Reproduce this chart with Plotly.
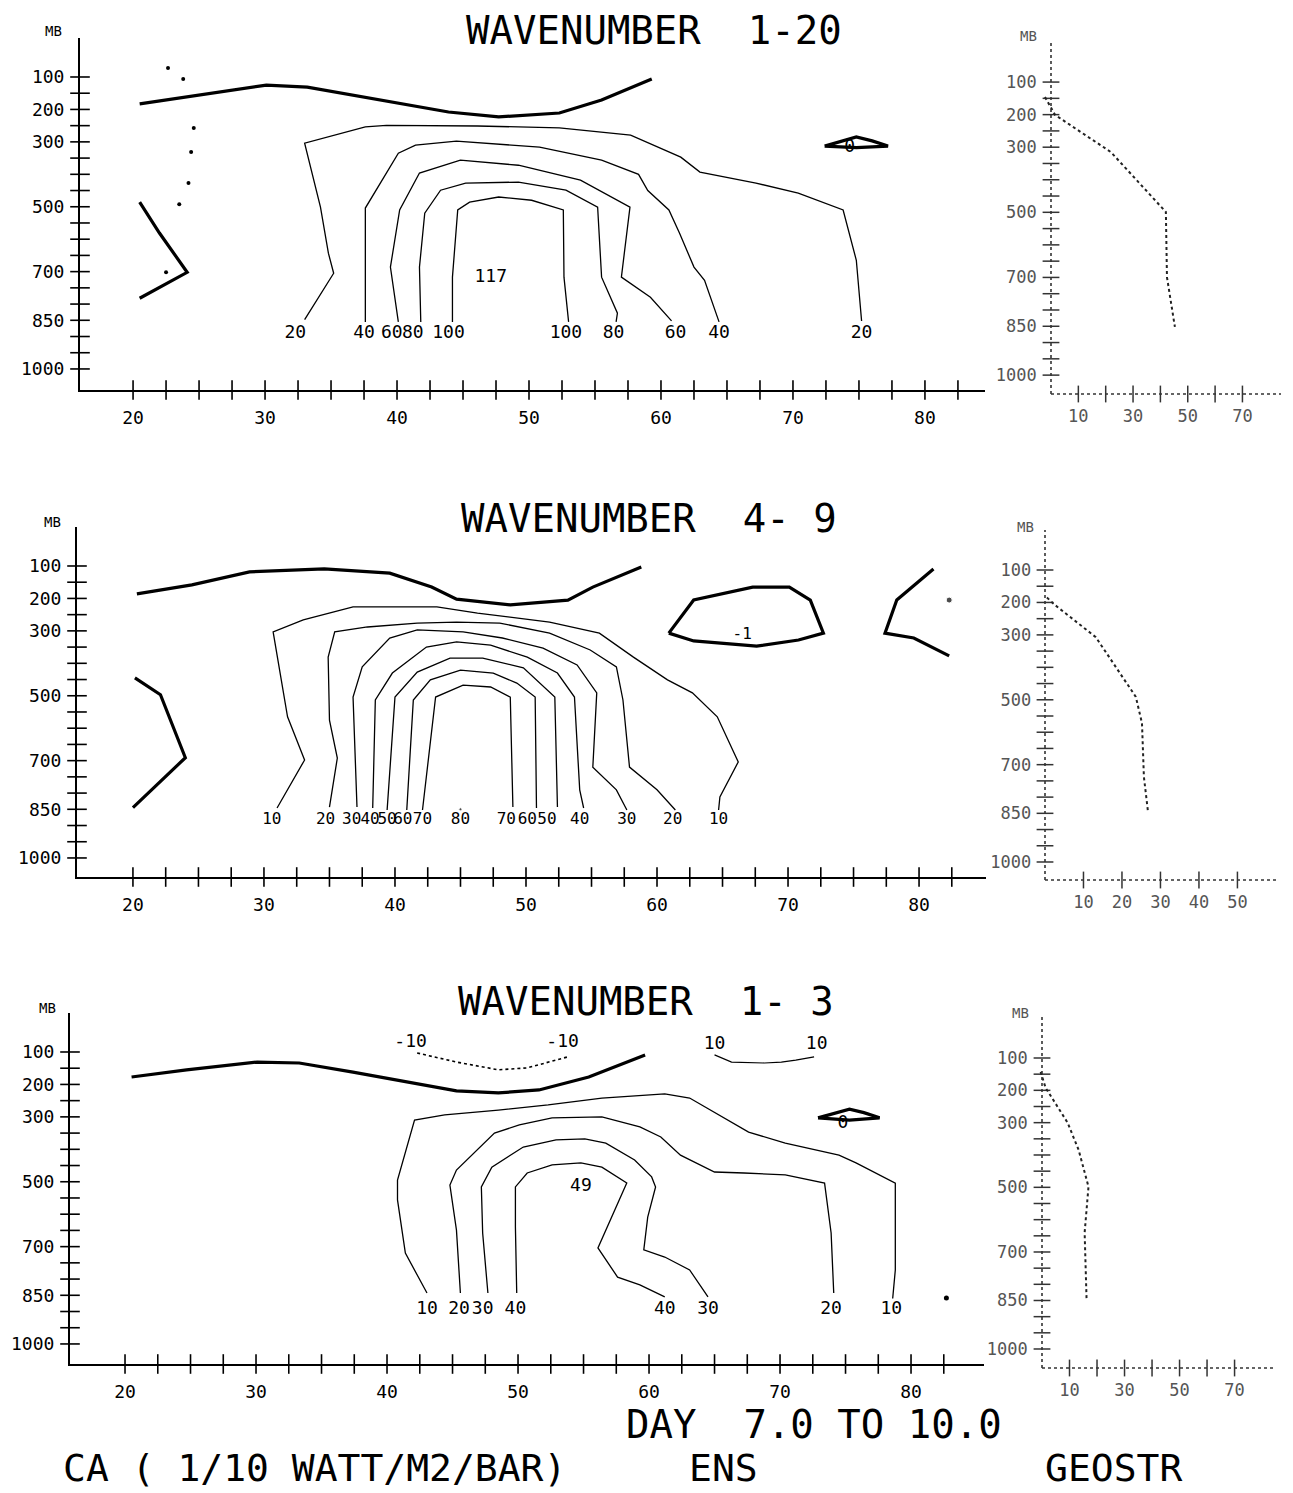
import plotly.graph_objects as go

# ---------------- DATA ----------------
# Panel 1 : WAVENUMBER 1-20   (latitude, pressure mb)
P1_TROP_LAT = [20.5, 24.1, 30.1, 33.2, 37.6, 43.9, 47.7, 52.3, 55.5, 59.3]
P1_TROP_P = [183, 162, 125, 131, 162, 208, 223, 211, 171, 106]
P1_V_LAT = [20.5, 22.0, 24.1, 20.5]
P1_V_P = [486, 581, 702, 782]
P1_C20_LAT = [33.0, 35.2, 34.8, 34.2, 33.0, 37.6, 39.2, 46.1, 52.3, 57.7, 61.5, 62.95, 67.2, 70.4, 73.8, 74.8, 75.2]
P1_C20_P = [848, 705, 643, 501, 304, 254, 249, 251, 257, 279, 347, 393, 427, 458, 510, 665, 852]
P1_C40_LAT = [37.6, 37.6, 40.1, 41.4, 44.5, 50.8, 55.5, 58.3, 59.0, 60.6, 61.4, 62.5, 63.3, 64.4]
P1_C40_P = [855, 504, 335, 310, 298, 316, 356, 400, 450, 510, 581, 686, 727, 855]
P1_C60_LAT = [40.1, 39.5, 40.2, 41.7, 44.8, 49.2, 53.9, 57.65, 57.0, 59.2, 60.8]
P1_C60_P = [855, 686, 510, 396, 356, 372, 418, 501, 717, 779, 852]
P1_C80_LAT = [41.8, 41.7, 42.1, 43.3, 45.2, 49.2, 52.8, 55.2, 55.5, 56.7, 56.6]
P1_C80_P = [855, 686, 520, 449, 427, 424, 449, 501, 717, 828, 855]
P1_C100_LAT = [44.2, 44.2, 44.6, 45.5, 47.7, 50.2, 52.6, 52.65, 53.0]
P1_C100_P = [855, 717, 510, 486, 470, 480, 510, 717, 855]
P1_ZERO_LAT = [72.4, 73.9, 74.8, 76.0, 77.2, 74.8, 72.4]
P1_ZERO_P = [313, 297, 285, 297, 313, 318, 313]
P1_DOTS_LAT = [22.65, 23.8, 24.6, 24.4, 24.2, 23.5, 22.5]
P1_DOTS_P = [72, 106, 257, 331, 427, 492, 702]
P1_LBL_TEXT = ["20", "40", "60", "80", "100", "100", "80", "60", "40", "20", "117", "0"]
P1_LBL_LAT = [32.3, 37.5, 39.6, 41.2, 43.9, 52.8, 56.4, 61.1, 64.4, 75.2, 47.1, 74.3]
P1_LBL_P = [892, 892, 892, 892, 892, 892, 892, 892, 892, 892, 717, 318]

# Panel 2 : WAVENUMBER 4-9
P2_TROP_LAT = [20.3, 24.5, 28.9, 34.6, 39.6, 42.8, 44.7, 48.8, 53.2, 55.1, 58.8]
P2_TROP_P = [186, 158, 118, 109, 122, 165, 202, 220, 205, 165, 103]
P2_V_LAT = [20.15, 22.1, 24.0, 20.0]
P2_V_P = [445, 497, 691, 845]
P2_C10_LAT = [31.0, 33.1, 31.8, 30.7, 33.0, 36.8, 43.2, 46.3, 51.8, 55.6, 58.2, 60.8, 62.7, 64.6, 66.2, 64.8, 64.7]
P2_C10_P = [846, 698, 565, 303, 266, 226, 226, 245, 273, 307, 381, 451, 491, 565, 704, 812, 852]
P2_C20_LAT = [35.0, 35.6, 35.0, 34.9, 35.4, 37.9, 41.7, 44.7, 48.0, 51.8, 54.9, 56.9, 57.4, 57.9, 60.0, 61.4]
P2_C20_P = [843, 692, 575, 381, 303, 288, 276, 273, 276, 307, 359, 411, 513, 720, 790, 852]
P2_C30_LAT = [37.1, 36.8, 37.5, 39.6, 41.7, 45.2, 48.2, 51.3, 53.9, 55.4, 55.1, 56.9, 57.7]
P2_C30_P = [843, 504, 411, 322, 297, 303, 322, 353, 405, 491, 720, 790, 852]
P2_C40_LAT = [38.3, 38.5, 39.8, 42.4, 44.7, 47.3, 50.1, 52.4, 53.7, 54.1, 54.4]
P2_C40_P = [846, 513, 430, 350, 334, 344, 381, 430, 504, 790, 846]
P2_C50_LAT = [39.4, 40.0, 41.7, 44.2, 46.7, 49.8, 52.2, 52.4]
P2_C50_P = [852, 504, 427, 384, 384, 414, 504, 843]
P2_C60_LAT = [40.9, 41.4, 42.7, 45.0, 47.5, 49.3, 50.7, 50.8]
P2_C60_P = [852, 513, 451, 421, 430, 461, 504, 846]
P2_C70_LAT = [42.1, 43.1, 45.2, 47.3, 48.8, 49.0]
P2_C70_P = [852, 504, 467, 473, 504, 843]
P2_NEG_LAT = [60.9, 62.8, 67.3, 70.1, 71.7, 72.7, 70.8, 67.6, 62.8, 60.9]
P2_NEG_P = [307, 205, 165, 165, 205, 307, 328, 347, 331, 307]
P2_RV_LAT = [81.1, 78.3, 77.4, 79.6, 82.3]
P2_RV_P = [109, 205, 307, 322, 377]
P2_MARK_LAT = [82.3, 45.0]
P2_MARK_P = [205, 850]
P2_LBL_TEXT = ["10", "20", "30", "40", "50", "60", "70", "80", "70", "60", "50", "40", "30", "20", "10", "-1"]
P2_LBL_LAT = [30.6, 34.7, 36.7, 38.1, 39.4, 40.6, 42.1, 45.0, 48.5, 50.1, 51.6, 54.1, 57.7, 61.2, 64.7, 66.5]
P2_LBL_P = [883, 883, 883, 883, 883, 883, 883, 883, 883, 883, 883, 883, 883, 883, 883, 313]

# Panel 3 : WAVENUMBER 1-3
P3_TROP_LAT = [20.5, 24.7, 30.1, 33.3, 37.4, 42.1, 45.3, 48.5, 51.6, 55.4, 59.7]
P3_TROP_P = [177, 155, 131, 134, 162, 196, 220, 226, 217, 177, 109]
P3_NEG10_LAT = [42.3, 45.3, 48.5, 50.7, 53.8]
P3_NEG10_P = [103, 131, 155, 149, 115]
P3_POS10_LAT = [65.0, 66.3, 68.8, 70.1, 71.2, 72.6]
P3_POS10_P = [109, 131, 134, 131, 125, 115]
P3_C10_LAT = [43.05, 41.4, 40.8, 40.8, 42.1, 44.4, 48.5, 52.3, 56.4, 60.2, 61.2, 63.1, 65.6, 67.6, 70.4, 74.5, 75.8, 78.8, 78.8, 78.6]
P3_C10_P = [843, 720, 556, 495, 310, 294, 279, 263, 242, 233, 229, 242, 300, 347, 381, 418, 442, 504, 772, 860]
P3_C20_LAT = [45.6, 45.3, 44.8, 45.3, 48.2, 50.1, 52.6, 56.4, 59.3, 60.9, 62.4, 65.0, 67.25, 70.4, 73.4, 73.9, 74.1]
P3_C20_P = [843, 649, 510, 464, 350, 325, 303, 300, 331, 362, 418, 470, 473, 479, 504, 658, 843]
P3_C30_LAT = [47.7, 47.3, 47.2, 48.0, 50.4, 52.9, 55.1, 56.7, 58.9, 60.2, 60.5, 59.9, 59.6, 61.2, 63.1, 64.5]
P3_C30_P = [843, 658, 516, 455, 393, 371, 368, 381, 433, 485, 516, 609, 710, 732, 772, 855]
P3_C40_LAT = [49.9, 49.8, 49.8, 50.7, 52.6, 54.8, 56.4, 58.3, 56.1, 57.6, 59.3, 61.2]
P3_C40_P = [843, 639, 516, 473, 448, 442, 455, 504, 704, 794, 818, 855]
P3_ZERO_LAT = [72.9, 74.2, 75.3, 76.4, 77.6, 75.3, 72.9]
P3_ZERO_P = [303, 287, 276, 287, 303, 310, 303]
P3_MARK_LAT = [82.7]
P3_MARK_P = [858]
P3_LBL_TEXT = ["10", "20", "30", "40", "40", "30", "20", "10", "49", "-10", "-10", "10", "10", "0"]
P3_LBL_LAT = [43.05, 45.5, 47.3, 49.8, 61.2, 64.5, 73.9, 78.5, 54.8, 41.8, 53.4, 65.0, 72.8, 74.8]
P3_LBL_P = [895, 895, 895, 895, 895, 895, 895, 895, 516, 72, 72, 78, 78, 319]

# Side profiles (GEOSTR)  value vs pressure
S1_VAL = [-2.2, 1.5, 21.9, 42.0, 42.4, 45.3]
S1_P = [146, 201, 315, 499, 699, 852]
S2_VAL = [0.5, 2.6, 13.2, 23.6, 25.2, 25.7, 26.8]
S2_P = [185, 208, 307, 491, 572, 738, 849]
S3_VAL = [-0.5, 1.3, 9.3, 13.3, 16.9, 15.5, 16.2]
S3_P = [143, 192, 300, 384, 498, 640, 847]

# Tick labels
P_TICKS = [100, 200, 300, 500, 700, 850, 1000]
LAT_TICKS = [20, 30, 40, 50, 60, 70, 80]
S13_TICKS = [10, 30, 50, 70]
S2_TICKS = [10, 20, 30, 40, 50]
P_MINOR = [100 + 50 * i for i in range(19)]
LAT_MINOR = [20 + 2.5 * i for i in range(26)]
S13_MINOR = [10, 20, 30, 40, 50, 60, 70]
S2_MINOR = [10, 20, 30, 40, 50]

TITLES = ["WAVENUMBER  1-20", "WAVENUMBER  4- 9", "WAVENUMBER  1- 3"]

# ---------------- LAYOUT GEOMETRY ----------------
W, H = 1293, 1493
FONT = "DejaVu Sans Mono"


def px_x(x):
    return x / W


def px_y(y):
    return 1 - y / H


# (x-domain px, y-domain px, x range, y range)
MAIN = [
    ((80, 985), (38, 390), [15.98, 84.55], [1064.9, -20.2]),
    ((77, 986), (527, 877), [15.73, 85.11], [1058.7, -20.2]),
    ((70, 984), (1013, 1364), [15.80, 85.57], [1061.8, -20.2]),
]
SIDE = [
    ((1042.8, 1281), (43, 394), [-3, 84.1], [1058, -20]),
    ((1037.3, 1279), (530, 880), [-2, 60.8], [1055.5, -23.3]),
    ((1033.75, 1275), (1017, 1368), [-3, 84.7], [1058.8, -26.8]),
]

fig = go.Figure()
layout = dict(
    width=W, height=H, margin=dict(l=0, r=0, t=0, b=0),
    paper_bgcolor="white", plot_bgcolor="white", showlegend=False,
    font=dict(family=FONT, color="black"),
)
shapes = []
annotations = []


def axname(i):
    return "" if i == 1 else str(i)


for k in range(3):
    mi = 2 * k + 1
    si = 2 * k + 2
    (mx0, mx1), (my0, my1), mxr, myr = MAIN[k]
    layout["xaxis" + axname(mi)] = dict(
        domain=[px_x(mx0), px_x(mx1)], range=mxr, anchor="y" + axname(mi),
        showline=True, linecolor="black", linewidth=2, mirror=False,
        showgrid=False, zeroline=False, ticks="",
        tickvals=LAT_TICKS, ticktext=[str(v) for v in LAT_TICKS],
        tickfont=dict(family=FONT, size=18, color="black"), ticklabelstandoff=10,
    )
    layout["yaxis" + axname(mi)] = dict(
        domain=[px_y(my1), px_y(my0)], range=myr, anchor="x" + axname(mi),
        showline=True, linecolor="black", linewidth=2,
        showgrid=False, zeroline=False, ticks="",
        tickvals=P_TICKS, ticktext=[str(v) for v in P_TICKS],
        tickfont=dict(family=FONT, size=18, color="black"), ticklabelstandoff=10,
    )
    (sx0, sx1), (sy0, sy1), sxr, syr = SIDE[k]
    stv = S2_TICKS if k == 1 else S13_TICKS
    layout["xaxis" + axname(si)] = dict(
        domain=[px_x(sx0), px_x(sx1)], range=sxr, anchor="y" + axname(si),
        showline=False, showgrid=False, zeroline=False, ticks="",
        tickvals=stv, ticktext=[str(v) for v in stv],
        tickfont=dict(family=FONT, size=17, color="#555"), ticklabelstandoff=10,
    )
    layout["yaxis" + axname(si)] = dict(
        domain=[px_y(sy1), px_y(sy0)], range=syr, anchor="x" + axname(si),
        showline=False, showgrid=False, zeroline=False, ticks="",
        tickvals=P_TICKS, ticktext=[str(v) for v in P_TICKS],
        tickfont=dict(family=FONT, size=17, color="#555"), ticklabelstandoff=5,
    )
    # dotted side axes
    xs = "x" + axname(si)
    ys = "y" + axname(si)
    shapes.append(dict(type="line", xref=xs, yref=ys + " domain", x0=0, x1=0, y0=0, y1=1,
                       line=dict(color="#333", width=1.6, dash="dot")))
    shapes.append(dict(type="line", xref=xs, yref=ys + " domain", x0=0, x1=sxr[1], y0=0, y1=0,
                       line=dict(color="#333", width=1.6, dash="dot")))

    # crossing tick marks, main
    xm = "x" + axname(mi)
    ym = "y" + axname(mi)
    fig.add_trace(go.Scatter(x=LAT_MINOR, y=[myr[0]] * len(LAT_MINOR), xaxis=xm, yaxis=ym,
                             mode="markers", cliponaxis=False, hoverinfo="skip",
                             marker=dict(symbol="line-ns", size=14, line=dict(width=1.6, color="black"))))
    fig.add_trace(go.Scatter(x=[mxr[0]] * len(P_MINOR), y=P_MINOR, xaxis=xm, yaxis=ym,
                             mode="markers", cliponaxis=False, hoverinfo="skip",
                             marker=dict(symbol="line-ew", size=14, line=dict(width=1.6, color="black"))))
    # crossing tick marks, side
    smin = S2_MINOR if k == 1 else S13_MINOR
    fig.add_trace(go.Scatter(x=smin, y=[syr[0]] * len(smin), xaxis=xs, yaxis=ys,
                             mode="markers", cliponaxis=False, hoverinfo="skip",
                             marker=dict(symbol="line-ns", size=12, line=dict(width=1.5, color="#333"))))
    fig.add_trace(go.Scatter(x=[0] * len(P_MINOR), y=P_MINOR, xaxis=xs, yaxis=ys,
                             mode="markers", cliponaxis=False, hoverinfo="skip",
                             marker=dict(symbol="line-ew", size=12, line=dict(width=1.5, color="#333"))))

    # titles and MB labels
    ty = [30, 518, 1001][k]
    tx = [464, 459, 456][k]
    annotations.append(dict(text=TITLES[k], x=px_x(tx), y=px_y(ty), xref="paper", yref="paper",
                            xanchor="left", yanchor="middle", showarrow=False,
                            font=dict(family=FONT, size=39, color="black")))
    mbx = [53, 52, 47][k]
    mby = [31, 522, 1008][k]
    annotations.append(dict(text="MB", x=px_x(mbx), y=px_y(mby), xref="paper", yref="paper",
                            xanchor="center", yanchor="middle", showarrow=False,
                            font=dict(family=FONT, size=14, color="black")))
    smbx = [1028, 1025, 1020][k]
    smby = [36, 527, 1013][k]
    annotations.append(dict(text="MB", x=px_x(smbx), y=px_y(smby), xref="paper", yref="paper",
                            xanchor="center", yanchor="middle", showarrow=False,
                            font=dict(family=FONT, size=14, color="#555")))


def line(lat, p, ax, width=1.3, dash="solid", color="black"):
    fig.add_trace(go.Scatter(x=lat, y=p, xaxis="x" + axname(ax), yaxis="y" + axname(ax),
                             mode="lines", hoverinfo="skip",
                             line=dict(color=color, width=width, dash=dash)))


def labels(lat, p, text, ax, size=18):
    fig.add_trace(go.Scatter(x=lat, y=p, text=text, xaxis="x" + axname(ax), yaxis="y" + axname(ax),
                             mode="text", cliponaxis=False, hoverinfo="skip",
                             textfont=dict(family=FONT, size=size, color="black")))


THICK = 3.2
# Panel 1
line(P1_TROP_LAT, P1_TROP_P, 1, THICK)
line(P1_V_LAT, P1_V_P, 1, THICK)
for la, pp in [(P1_C20_LAT, P1_C20_P), (P1_C40_LAT, P1_C40_P), (P1_C60_LAT, P1_C60_P),
               (P1_C80_LAT, P1_C80_P), (P1_C100_LAT, P1_C100_P)]:
    line(la, pp, 1)
line(P1_ZERO_LAT, P1_ZERO_P, 1, THICK)
fig.add_trace(go.Scatter(x=P1_DOTS_LAT, y=P1_DOTS_P, xaxis="x", yaxis="y", mode="markers",
                         hoverinfo="skip", marker=dict(size=4, color="black")))
labels(P1_LBL_LAT, P1_LBL_P, P1_LBL_TEXT, 1)

# Panel 2
line(P2_TROP_LAT, P2_TROP_P, 3, THICK)
line(P2_V_LAT, P2_V_P, 3, THICK)
for la, pp in [(P2_C10_LAT, P2_C10_P), (P2_C20_LAT, P2_C20_P), (P2_C30_LAT, P2_C30_P),
               (P2_C40_LAT, P2_C40_P), (P2_C50_LAT, P2_C50_P), (P2_C60_LAT, P2_C60_P),
               (P2_C70_LAT, P2_C70_P)]:
    line(la, pp, 3)
line(P2_NEG_LAT, P2_NEG_P, 3, THICK)
line(P2_RV_LAT, P2_RV_P, 3, THICK)
fig.add_trace(go.Scatter(x=P2_MARK_LAT, y=P2_MARK_P, xaxis="x3", yaxis="y3", mode="markers",
                         hoverinfo="skip", marker=dict(size=[6, 3], color="black")))
labels(P2_LBL_LAT, P2_LBL_P, P2_LBL_TEXT, 3, size=16)

# Panel 3
line(P3_TROP_LAT, P3_TROP_P, 5, THICK)
line(P3_NEG10_LAT, P3_NEG10_P, 5, 1.6, "dot")
line(P3_POS10_LAT, P3_POS10_P, 5, 1.2)
for la, pp in [(P3_C10_LAT, P3_C10_P), (P3_C20_LAT, P3_C20_P), (P3_C30_LAT, P3_C30_P),
               (P3_C40_LAT, P3_C40_P)]:
    line(la, pp, 5)
line(P3_ZERO_LAT, P3_ZERO_P, 5, THICK)
fig.add_trace(go.Scatter(x=P3_MARK_LAT, y=P3_MARK_P, xaxis="x5", yaxis="y5", mode="markers",
                         hoverinfo="skip", marker=dict(size=5, color="black")))
labels(P3_LBL_LAT, P3_LBL_P, P3_LBL_TEXT, 5)

# Side profiles
line(S1_VAL, S1_P, 2, 2, "dot", "#222")
line(S2_VAL, S2_P, 4, 2, "dot", "#222")
line(S3_VAL, S3_P, 6, 2, "dot", "#222")

# Bottom texts
for txt, x, y, anchor, size in [
    ("DAY  7.0 TO 10.0", 625, 1424, "left", 39),
    ("CA ( 1/10 WATT/M2/BAR)", 62, 1468, "left", 38),
    ("ENS", 723, 1468, "center", 38),
    ("GEOSTR", 1113, 1468, "center", 38),
]:
    annotations.append(dict(text=txt, x=px_x(x), y=px_y(y), xref="paper", yref="paper",
                            xanchor=anchor, yanchor="middle", showarrow=False, borderpad=0,
                            font=dict(family=FONT, size=size, color="black")))

layout["shapes"] = shapes
layout["annotations"] = annotations
fig.update_layout(**layout)
fig.write_html("out.html")
